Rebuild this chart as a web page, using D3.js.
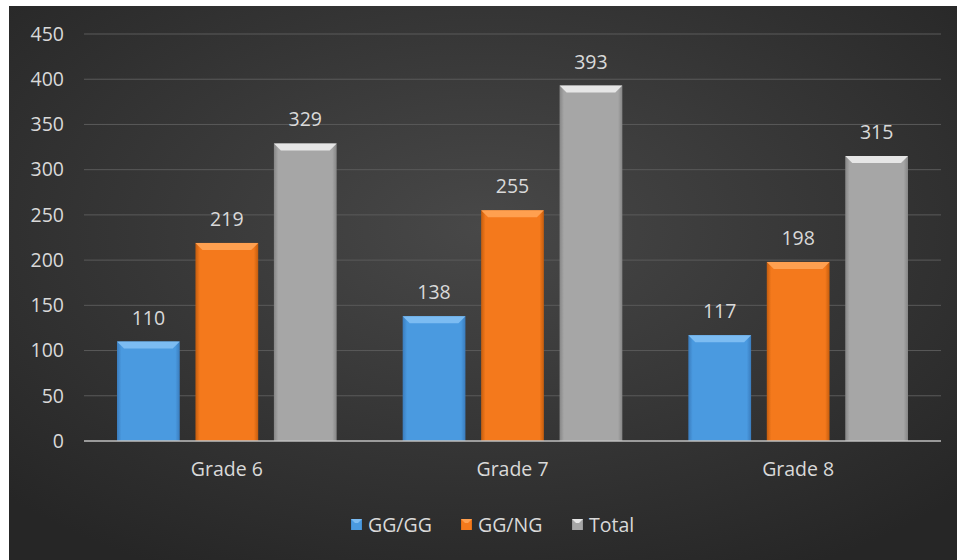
<!DOCTYPE html>
<meta charset="utf-8">
<style>
body { margin: 0; background: #fff; }
text { font-family: "Open Sans", "Noto Sans", sans-serif; }
</style>
<body>
<svg width="957" height="560"></svg>
<script src="https://cdnjs.cloudflare.com/ajax/libs/d3/7.8.5/d3.min.js"></script>
<script>
var categories = ["Grade 6", "Grade 7", "Grade 8"];
var seriesNames = ["GG/GG", "GG/NG", "Total"];
var ggGG = [110, 138, 117];
var ggNG = [219, 255, 198];
var total = [329, 393, 315];
var yTicks = [0, 50, 100, 150, 200, 250, 300, 350, 400, 450];

var values = [ggGG, ggNG, total];
var colors = [
  {base: "#4a9ae0", light: "#7cbcf2", dark: "#3a7cbd"},
  {base: "#f4791c", light: "#ffa050", dark: "#c45d0e"},
  {base: "#a6a6a6", light: "#e6e6e6", dark: "#868686"}
];

var svg = d3.select("svg");
var defs = svg.append("defs");

var bg = defs.append("radialGradient").attr("id", "bg")
  .attr("cx", "50%").attr("cy", "40%").attr("r", "70%");
bg.append("stop").attr("offset", "0%").attr("stop-color", "#484848");
bg.append("stop").attr("offset", "100%").attr("stop-color", "#262626");

colors.forEach(function(c, i) {
  var g = defs.append("linearGradient").attr("id", "bar" + i)
    .attr("x1", 0).attr("x2", 1).attr("y1", 0).attr("y2", 0);
  g.append("stop").attr("offset", "0%").attr("stop-color", c.dark);
  g.append("stop").attr("offset", "7%").attr("stop-color", c.base);
  g.append("stop").attr("offset", "93%").attr("stop-color", c.base);
  g.append("stop").attr("offset", "100%").attr("stop-color", c.dark);
});

svg.append("rect").attr("x", 9).attr("y", 6).attr("width", 948).attr("height", 554)
  .attr("fill", "url(#bg)");

var margin = {left: 84, right: 941, top: 34, bottom: 441};

var x0 = d3.scaleBand().domain(categories).range([margin.left, margin.right]);
var x1 = d3.scaleBand().domain(d3.range(3)).range([33, x0.bandwidth() - 33]).paddingInner(0.2);
var y = d3.scaleLinear().domain([0, 450]).range([margin.bottom, margin.top]);

// grid
svg.append("g").selectAll("line").data(yTicks.slice(1)).enter().append("line")
  .attr("x1", margin.left).attr("x2", margin.right)
  .attr("y1", function(d) { return y(d); }).attr("y2", function(d) { return y(d); })
  .attr("stroke", "#5a5a5a").attr("stroke-width", 1);

// y labels
svg.append("g").selectAll("text").data(yTicks).enter().append("text")
  .attr("x", 64).attr("y", function(d) { return y(d); }).attr("dy", "0.35em")
  .attr("text-anchor", "end").attr("fill", "#d9d9d9").attr("font-size", 19.5)
  .text(function(d) { return d; });

// bars
var groups = svg.append("g").selectAll("g").data(categories).enter().append("g")
  .attr("transform", function(d) { return "translate(" + x0(d) + ",0)"; });

groups.each(function(cat, ci) {
  var g = d3.select(this);
  values.forEach(function(vals, si) {
    var v = vals[ci];
    var bx = x1(si), bw = x1.bandwidth(), top = y(v), h = y(0) - y(v);
    var bev = 7;
    g.append("rect").attr("x", bx).attr("y", top).attr("width", bw).attr("height", h)
      .attr("fill", "url(#bar" + si + ")");
    // top bevel
    g.append("path")
      .attr("d", "M" + bx + "," + top + "L" + (bx + bw) + "," + top +
        "L" + (bx + bw - bev) + "," + (top + bev) + "L" + (bx + bev) + "," + (top + bev) + "Z")
      .attr("fill", colors[si].light);
    g.append("text").attr("x", bx + bw / 2).attr("y", top - 17)
      .attr("text-anchor", "middle").attr("fill", "#d9d9d9").attr("font-size", 19.5)
      .text(v);
  });
});

// baseline
svg.append("line").attr("x1", margin.left).attr("x2", margin.right)
  .attr("y1", y(0)).attr("y2", y(0)).attr("stroke", "#bfbfbf").attr("stroke-width", 1.5);

// x labels
svg.append("g").selectAll("text").data(categories).enter().append("text")
  .attr("x", function(d) { return x0(d) + x0.bandwidth() / 2; }).attr("y", 476)
  .attr("text-anchor", "middle").attr("fill", "#d9d9d9").attr("font-size", 19.5)
  .text(function(d) { return d; });

// legend
var legendX = [351, 461, 572];
var legend = svg.append("g").selectAll("g").data(seriesNames).enter().append("g")
  .attr("transform", function(d, i) { return "translate(" + legendX[i] + ",525)"; });
legend.append("rect").attr("x", 0).attr("y", -6).attr("width", 11).attr("height", 11)
  .attr("fill", function(d, i) { return "url(#bar" + i + ")"; });
legend.append("path").attr("d", "M0,-6L11,-6L7,-2L4,-2Z")
  .attr("fill", function(d, i) { return colors[i].light; });
legend.append("text").attr("x", 17).attr("dy", "0.35em").attr("fill", "#d9d9d9")
  .attr("font-size", 19.5).text(function(d) { return d; });
</script>
</body>
